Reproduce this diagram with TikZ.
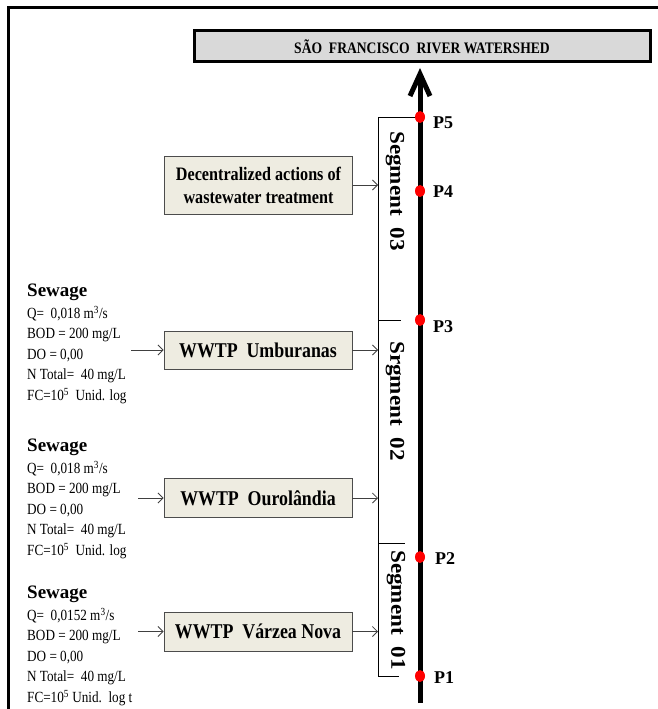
\documentclass[tikz,border=0pt]{standalone}
\usepackage{fontspec}
\setmainfont{Liberation Serif}
\newfontfamily\narrowfont[FakeStretch=0.85]{Liberation Serif}
\newfontfamily\widefont[FakeStretch=1.1]{Liberation Serif}
\newcommand\sewtitlefont{\rmfamily\bfseries\fontsize{19}{20}\selectfont}
\usetikzlibrary{arrows.meta, shapes.geometric}
\definecolor{boxfill}{RGB}{238,236,225}
\definecolor{titlefill}{RGB}{217,217,217}

\begin{document}
\begin{tikzpicture}[x=1pt, y=-1pt,
    titlebox/.style={draw, line width=3pt, fill=titlefill, minimum width=456pt, minimum height=31pt, inner sep=0pt, font=\narrowfont\bfseries\fontsize{16}{18}\selectfont},
    plant/.style={draw=black!70, line width=0.9pt, fill=boxfill, minimum width=188pt, minimum height=39pt, inner sep=0pt, align=center, font=\narrowfont\bfseries\fontsize{21}{23}\selectfont},
    sewage/.style={anchor=north west, inner sep=0pt, align=left, font=\narrowfont\fontsize{15.5}{20.5}\selectfont},
    dot/.style={ellipse, fill=red, minimum width=10pt, minimum height=12pt, inner sep=0pt},
    plabel/.style={anchor=west, inner sep=0pt, font=\bfseries\fontsize{18}{20}\selectfont},
    seglabel/.style={rotate=-90, inner sep=0pt, font=\widefont\bfseries\fontsize{21}{22}\selectfont},
    flow/.style={-{Straight Barb[length=5pt,width=10pt]}, line width=0.8pt, black!75},
    bracket/.style={line width=0.8pt}]
  \useasboundingbox (0,0) rectangle (658,709);

  % frame
  \draw[line width=3pt] (662,8) -- (8,8) -- (8,713);

  \node[titlebox] (title) at (422,46.5) {SÃO\ \ FRANCISCO\ \ RIVER WATERSHED};

  % river
  \coordinate (riverend) at (420,703);
  \coordinate (rivertop) at (420,68);
  \draw[line width=5pt, -{Straight Barb[length=22pt,width=20pt]}] (riverend) -- (rivertop);

  \node[dot] (p5) at (420,117) {};
  \node[dot] (p4) at (420,191) {};
  \node[dot] (p3) at (420,320) {};
  \node[dot] (p2) at (420,557) {};
  \node[dot] (p1) at (420,676) {};
  \node[plabel] (p5lab) at (433,123) {P5};
  \node[plabel] (p4lab) at (433,192) {P4};
  \node[plabel] (p3lab) at (433,327) {P3};
  \node[plabel] (p2lab) at (435,559) {P2};
  \node[plabel] (p1lab) at (434,678) {P1};

  % segments
  \coordinate (brk) at (378,0);
  \draw[bracket] (p5) -- (p5 -| brk) -- (p1 -| brk) -- ++(21,0);
  \draw[bracket] (p3 -| brk) -- ++(23,0);
  \draw[bracket] (378,543) -- ++(27,0);
  \node[seglabel] (seg3) at (395,191) {Segment\ \ 03};
  \node[seglabel] (seg2) at (395,401) {Srgment\ \ 02};
  \node[seglabel] (seg1) at (396,610) {Segment\ \ 01};

  % plants
  \node[plant, minimum height=58pt, font=\narrowfont\bfseries\fontsize{19}{23}\selectfont] (dec) at (258.5,185) {Decentralized actions of\\wastewater treatment};
  \node[plant, minimum height=38pt] (umb) at (258,350) {WWTP\ \ Umburanas};
  \node[plant] (our) at (258,498) {WWTP\ \ Ourolândia};
  \node[plant] (var) at (258,631.5) {WWTP\ \ Várzea Nova};

  \node[sewage] (sew1) at (27,284) {{\sewtitlefont Sewage}\\[1pt]
    Q=\ \ 0,018 m\textsuperscript{3}/s\\ BOD = 200 mg/L\\ DO = 0,00\\ N Total=\ \ 40 mg/L\\ FC=10\textsuperscript{5}\ \ Unid. log};
  \node[sewage] (sew2) at (27,439) {{\sewtitlefont Sewage}\\[1pt]
    Q=\ \ 0,018 m\textsuperscript{3}/s\\ BOD = 200 mg/L\\ DO = 0,00\\ N Total=\ \ 40 mg/L\\ FC=10\textsuperscript{5}\ \ Unid. log};
  \node[sewage] (sew3) at (27,586) {{\sewtitlefont Sewage}\\[1pt]
    Q=\ \ 0,0152 m\textsuperscript{3}/s\\ BOD = 200 mg/L\\ DO = 0,00\\ N Total=\ \ 40 mg/L\\ FC=10\textsuperscript{5} Unid.\ \ log t};

  \coordinate (in1) at (131,350);
  \coordinate (in2) at (138,498);
  \coordinate (in3) at (138,631.5);
  \draw[flow] (in1) -- (umb);
  \draw[flow] (in2) -- (our);
  \draw[flow] (in3) -- (var);

  \draw[flow] (dec) -- (dec -| brk);
  \draw[flow] (umb) -- (umb -| brk);
  \draw[flow] (our) -- (our -| brk);
  \draw[flow] (var) -- (var -| brk);
\end{tikzpicture}
\end{document}
